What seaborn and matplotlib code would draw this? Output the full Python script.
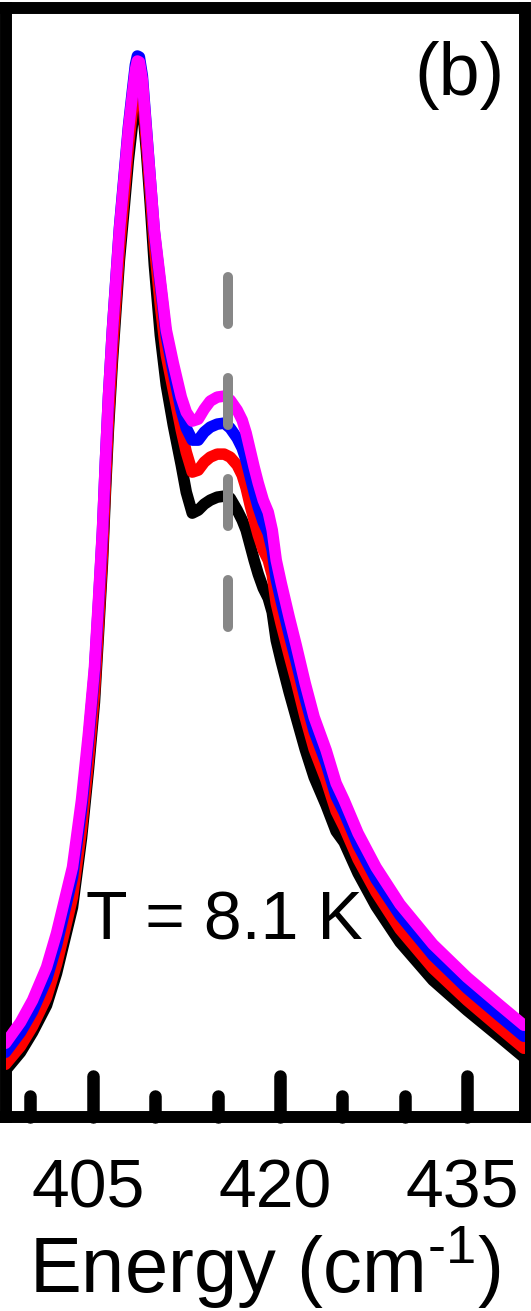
import numpy as np
import pandas as pd
import seaborn as sns
import matplotlib
matplotlib.use('Agg')
from matplotlib import pyplot as plt
from matplotlib.markers import MarkerStyle, TICKUP
from matplotlib.ticker import MultipleLocator
from matplotlib.transforms import ScaledTranslation

sns.set_style('white')
plt.rcParams['font.family'] = ['Liberation Sans', 'DejaVu Sans']
plt.rcParams['mathtext.fontset'] = 'custom'
plt.rcParams['mathtext.rm'] = 'Liberation Sans'
plt.rcParams['mathtext.it'] = 'Liberation Sans:italic'
plt.rcParams['mathtext.bf'] = 'Liberation Sans:bold'
plt.rcParams['text.color'] = 'black'
plt.rcParams['axes.labelcolor'] = 'black'
plt.rcParams['xtick.color'] = 'black'
plt.rcParams['xtick.labelcolor'] = 'black'

# Raman shift (cm^-1), shared grid for the four spectra
energy = [398.00, 399.20, 400.17, 401.29, 402.09, 402.73, 403.37, 404.09, 404.65, 405.13,
          405.45, 405.77, 406.01, 406.25, 406.57, 407.13, 407.53, 407.85, 408.17, 408.41,
          408.57, 408.73, 408.97, 409.29, 409.61, 409.93, 410.41, 410.89, 411.45, 412.09,
          412.49, 412.97, 413.45, 413.93, 414.41, 414.97, 415.53, 416.01, 416.57, 416.97,
          417.29, 417.61, 417.93, 418.26, 418.66, 419.06, 419.38, 419.70, 420.10, 420.74,
          421.30, 422.02, 422.74, 423.70, 424.50, 425.14, 426.26, 427.70, 429.62, 432.26,
          434.99, 437.63, 439.55]

# intensities (arb. units)
black_int = [47, 65, 85, 112, 144, 177, 210, 279, 348, 415,
             483, 554, 625, 688, 756, 857, 912, 957, 992, 1017,
             1026, 1025, 1012, 967, 912, 852, 782, 732, 692, 652,
             625, 604, 607, 613, 617, 620, 621, 619, 607, 597,
             587, 572, 557, 543, 529, 519, 505, 477, 456, 425,
             400, 368, 340, 312, 286, 275, 244, 211, 175, 137,
             107, 80, 60]
red_int = [53, 71, 91, 120, 153, 186, 220, 288, 357, 424,
           492, 563, 634, 698, 766, 868, 925, 971, 1007, 1033,
           1042, 1041, 1025, 977, 925, 872, 812, 762, 727, 687,
           665, 645, 647, 655, 660, 663, 663, 660, 652, 642,
           629, 612, 597, 582, 567, 557, 542, 514, 493, 462,
           436, 400, 368, 337, 306, 290, 258, 225, 188, 149,
           117, 89, 69]
blue_int = [65, 85, 106, 138, 172, 206, 240, 308, 377, 445,
            513, 585, 656, 720, 788, 889, 945, 990, 1026, 1052,
            1061, 1060, 1041, 989, 937, 885, 833, 781, 745, 707,
            689, 677, 677, 685, 690, 693, 694, 689, 679, 669,
            657, 641, 625, 610, 595, 584, 567, 538, 516, 483,
            456, 419, 386, 354, 321, 305, 272, 238, 202, 162,
            129, 101, 81]
magenta_int = [74, 95, 117, 150, 184, 217, 250, 317, 384, 450,
               517, 587, 657, 720, 787, 887, 942, 987, 1022, 1047,
               1056, 1055, 1037, 987, 937, 887, 837, 787, 754, 720,
               705, 696, 698, 708, 716, 720, 721, 717, 707, 697,
               684, 667, 650, 634, 617, 605, 587, 557, 534, 500,
               472, 434, 400, 367, 334, 317, 284, 250, 213, 173,
               140, 112, 92]

curves = ['black', 'red', 'blue', 'magenta']
colors = ['#000000', '#ff0000', '#0000ff', '#ff00ff']

mode_pos = 415.8          # dashed marker of the shoulder mode
mode_span = [840, 490]

df = pd.DataFrame({
    'Energy': energy * 4,
    'Intensity': black_int + red_int + blue_int + magenta_int,
    'Curve': sum([[c] * len(energy) for c in curves], []),
})

fig = plt.figure(figsize=(5.31, 13.11), dpi=100)
ax = fig.add_axes([5.5/531, 1 - 1117.3/1311, 519/531, 1109.3/1311])

sns.lineplot(data=df, x='Energy', y='Intensity', hue='Curve', hue_order=curves,
             palette=colors, linewidth=8.3, estimator=None, sort=False,
             legend=False, ax=ax, zorder=3, solid_joinstyle='round')

ax.plot([mode_pos, mode_pos], mode_span, color='#878787', lw=7.2,
        dashes=(4.7, 5.4), dash_capstyle='round', zorder=5)

ax.set_xlim(398.0, 439.6)
ax.set_ylim(0, 1109)
ax.set_yticks([])
ax.set_ylabel('')
ax.xaxis.set_major_locator(MultipleLocator(15))
ax.xaxis.set_minor_locator(MultipleLocator(5))
ax.tick_params(axis='x', which='major', direction='in', length=29.5, width=9,
               pad=29, labelsize=49, color='black', labelcolor='black',
               bottom=True, top=False)
ax.tick_params(axis='x', which='minor', direction='in', length=15, width=9,
               color='black', bottom=True, top=False)
ax.set_xlabel(r'Energy (cm$^{\text{-}1}$)', fontsize=56, labelpad=2, color='black')

for sp in ax.spines.values():
    sp.set_linewidth(8.6)
    sp.set_color('black')
    sp.set_capstyle('projecting')

ax.text(0.962, 0.9706, '(b)', transform=ax.transAxes, ha='right', va='top',
        fontsize=53, color='black')
ax.text(0.421, 0.1607, 'T = 8.1 K', transform=ax.transAxes, ha='center',
        va='baseline', fontsize=49, color='black')

# rounded tick tips, labels nudged left like the original
majors = ax.xaxis.get_major_ticks(len(ax.xaxis.get_majorticklocs()))
minors = ax.xaxis.get_minor_ticks(len(ax.xaxis.get_minorticklocs()))
for t in majors + minors:
    t.tick1line.set_marker(MarkerStyle(TICKUP, capstyle='round'))
shift = ScaledTranslation(-5/100, 0, fig.dpi_scale_trans)
for t in majors:
    t.label1.set_transform(t.label1.get_transform() + shift)

fig.savefig('out.png', dpi=100)
